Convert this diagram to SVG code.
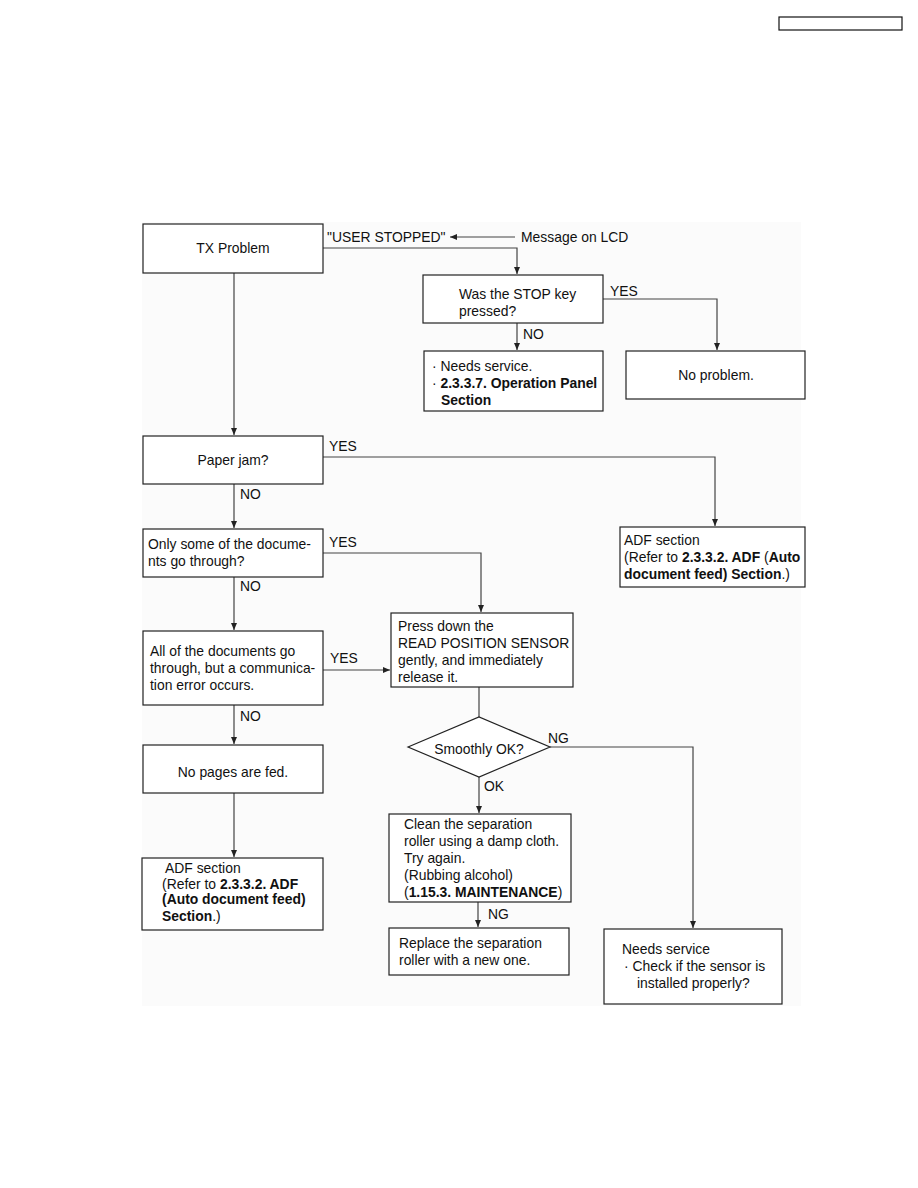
<svg xmlns="http://www.w3.org/2000/svg" width="918" height="1188" viewBox="0 0 918 1188">
<style>
text{font-family:"Liberation Sans",Arial,sans-serif;font-size:13.9px;fill:#111}
.b{font-weight:bold}
.box{fill:#fff;stroke:#222;stroke-width:1.2}
.ln{fill:none;stroke:#444;stroke-width:1.2}
.c{text-anchor:middle}
</style>
<defs>
<marker id="ah" markerWidth="8" markerHeight="8" refX="7" refY="4" orient="auto" markerUnits="userSpaceOnUse">
<path d="M0,1 L7,4 L0,7 Z" fill="#222"/>
</marker>
</defs>
<rect width="918" height="1188" fill="#fff"/>
<rect x="779" y="17" width="123" height="13" fill="#fff" stroke="#111" stroke-width="1.2"/>
<rect x="142" y="222" width="659" height="784" fill="#fbfbfb"/>

<g id="connectors">
<polyline class="ln" points="323,248 517,248 517,274" marker-end="url(#ah)"/>
<line class="ln" x1="515" y1="237" x2="450" y2="237" marker-end="url(#ah)"/>
<polyline class="ln" points="603,299 717,299 717,350" marker-end="url(#ah)"/>
<line class="ln" x1="517" y1="323" x2="517" y2="350" marker-end="url(#ah)"/>
<line class="ln" x1="234" y1="273" x2="234" y2="435" marker-end="url(#ah)"/>
<polyline class="ln" points="323,457 715,457 715,526" marker-end="url(#ah)"/>
<line class="ln" x1="234" y1="484" x2="234" y2="528" marker-end="url(#ah)"/>
<polyline class="ln" points="323,553 481,553 481,612" marker-end="url(#ah)"/>
<line class="ln" x1="234" y1="577" x2="234" y2="630" marker-end="url(#ah)"/>
<line class="ln" x1="323" y1="670" x2="390" y2="670" marker-end="url(#ah)"/>
<line class="ln" x1="234" y1="705" x2="234" y2="744" marker-end="url(#ah)"/>
<line class="ln" x1="234" y1="793" x2="234" y2="857" marker-end="url(#ah)"/>
<line class="ln" x1="479" y1="687" x2="479" y2="717"/>
<polyline class="ln" points="550,747 693,747 693,928" marker-end="url(#ah)"/>
<line class="ln" x1="479" y1="777" x2="479" y2="813" marker-end="url(#ah)"/>
<line class="ln" x1="478" y1="902" x2="478" y2="927" marker-end="url(#ah)"/>
<text x="327" y="242">"USER STOPPED"</text>
<text x="521" y="242">Message on LCD</text>
<text x="610" y="296">YES</text>
<text x="523" y="339">NO</text>
<text x="329" y="451">YES</text>
<text x="240" y="499">NO</text>
<text x="329" y="547">YES</text>
<text x="240" y="591">NO</text>
<text x="330" y="663">YES</text>
<text x="240" y="721">NO</text>
<text x="548" y="743">NG</text>
<text x="484" y="791">OK</text>
<text x="488" y="919">NG</text>
</g>

<g id="tx-problem">
<rect class="box" x="143" y="224" width="180" height="49"/>
<text class="c" x="233" y="253">TX Problem</text>
</g>
<g id="stop-key">
<rect class="box" x="423" y="275" width="180" height="48"/>
<text x="459" y="299">Was the STOP key</text>
<text x="459" y="316">pressed?</text>
</g>
<g id="needs-service-panel">
<rect class="box" x="424" y="351" width="179" height="60"/>
<text x="432" y="371">· Needs service.</text>
<text x="432" y="388">· <tspan class="b">2.3.3.7. Operation Panel</tspan></text>
<text class="b" x="441" y="405">Section</text>
</g>
<g id="no-problem">
<rect class="box" x="626" y="351" width="179" height="48"/>
<text class="c" x="716" y="380">No problem.</text>
</g>
<g id="paper-jam">
<rect class="box" x="143" y="436" width="180" height="48"/>
<text class="c" x="233" y="465">Paper jam?</text>
</g>
<g id="adf-section-right">
<rect class="box" x="620" y="527" width="185" height="60"/>
<text x="624" y="545">ADF section</text>
<text x="624" y="562">(Refer to <tspan class="b">2.3.3.2. ADF</tspan> (<tspan class="b">Auto</tspan></text>
<text x="624" y="579"><tspan class="b">document feed) Section</tspan>.)</text>
</g>
<g id="only-some">
<rect class="box" x="143" y="529" width="180" height="48"/>
<text x="148" y="549">Only some of the docume-</text>
<text x="148" y="566">nts go through?</text>
</g>
<g id="all-docs">
<rect class="box" x="143" y="631" width="180" height="74"/>
<text x="150" y="656">All of the documents go</text>
<text x="150" y="673">through, but a communica-</text>
<text x="150" y="690">tion error occurs.</text>
</g>
<g id="press-down">
<rect class="box" x="391" y="613" width="182" height="74"/>
<text x="398" y="631">Press down the</text>
<text x="398" y="648">READ POSITION SENSOR</text>
<text x="398" y="665">gently, and immediately</text>
<text x="398" y="682">release it.</text>
</g>
<g id="no-pages">
<rect class="box" x="143" y="745" width="180" height="48"/>
<text class="c" x="233" y="777">No pages are fed.</text>
</g>
<g id="adf-section-left">
<rect class="box" x="142" y="858" width="181" height="72"/>
<text x="165" y="873">ADF section</text>
<text x="162" y="889">(Refer to <tspan class="b">2.3.3.2. ADF</tspan></text>
<text class="b" x="162" y="904">(Auto document feed)</text>
<text x="162" y="921"><tspan class="b">Section</tspan>.)</text>
</g>
<g id="smoothly">
<polygon class="box" points="408,747 479,717 550,747 479,777"/>
<text class="c" x="479" y="754">Smoothly OK?</text>
</g>
<g id="clean">
<rect class="box" x="389" y="814" width="182" height="88"/>
<text x="404" y="829">Clean the separation</text>
<text x="404" y="846">roller using a damp cloth.</text>
<text x="404" y="863">Try again.</text>
<text x="404" y="880">(Rubbing alcohol)</text>
<text x="404" y="897">(<tspan class="b">1.15.3. MAINTENANCE</tspan>)</text>
</g>
<g id="replace">
<rect class="box" x="389" y="928" width="180" height="47"/>
<text x="399" y="948">Replace the separation</text>
<text x="399" y="965">roller with a new one.</text>
</g>
<g id="needs-service-sensor">
<rect class="box" x="604" y="929" width="178" height="75"/>
<text x="622" y="954">Needs service</text>
<text x="624" y="971">· Check if the sensor is</text>
<text x="637" y="988">installed properly?</text>
</g>
</svg>
